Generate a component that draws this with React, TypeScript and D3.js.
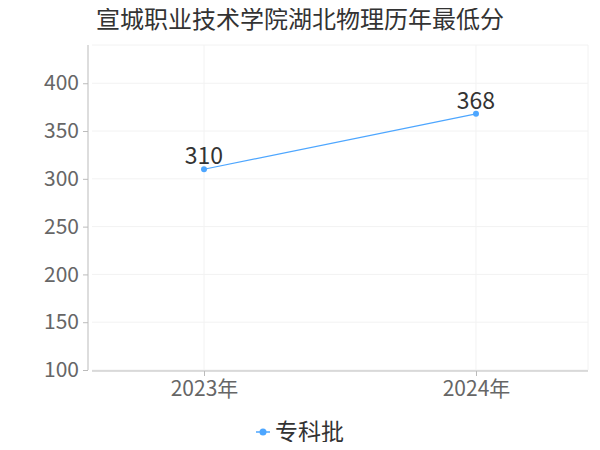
import { useRef, useEffect } from 'react';
import * as d3 from 'd3';

const title = '宣城职业技术学院湖北物理历年最低分';
const years = ['2023年', '2024年'];
const scores = [310, 368];
const seriesName = '专科批';
const yTicks = [100, 150, 200, 250, 300, 350, 400];

export default function App() {
    const ref = useRef<HTMLDivElement>(null);

    useEffect(() => {
        if (!ref.current) return;
        const w = 600;
        const h = 450;
        const font = '"Noto Sans CJK SC", "Noto Sans", sans-serif';
        d3.select(ref.current).selectAll('*').remove();
        const svg = d3
            .select(ref.current)
            .append('svg')
            .attr('width', w)
            .attr('height', h)
            .style('font-family', font)
            .style('display', 'block');

        const left = 92;
        const right = 588;
        const top = 45;
        const bottom = 370;

        const x = d3.scalePoint<string>().domain(years).range([left, right]).padding(0.4118);
        const y = d3.scaleLinear().domain([100, 440]).range([bottom, top]);

        // grid
        svg.append('g')
            .selectAll('line')
            .data(yTicks.concat([440]))
            .join('line')
            .attr('x1', left)
            .attr('x2', right)
            .attr('y1', (d) => y(d))
            .attr('y2', (d) => y(d))
            .attr('stroke', '#f2f2f2');
        svg.append('g')
            .selectAll('line')
            .data(years)
            .join('line')
            .attr('x1', (d) => x(d)!)
            .attr('x2', (d) => x(d)!)
            .attr('y1', top)
            .attr('y2', bottom)
            .attr('stroke', '#f2f2f2');
        svg.append('line')
            .attr('x1', right)
            .attr('x2', right)
            .attr('y1', top)
            .attr('y2', bottom)
            .attr('stroke', '#f2f2f2');

        // y axis
        const yAxis = svg
            .append('g')
            .attr('transform', `translate(88,0)`)
            .call(d3.axisLeft(y).tickValues(yTicks).tickSize(5).tickPadding(4));
        yAxis.select('.domain').attr('stroke', '#bbb').attr('d', `M0,${top}V${bottom}`);
        yAxis.selectAll('.tick line').attr('stroke', '#bbb');
        yAxis
            .selectAll('.tick text')
            .attr('fill', '#666')
            .style('font-size', '21px')
            .style('font-family', font);

        // x axis
        const xAxis = svg
            .append('g')
            .attr('transform', `translate(0,${bottom + 1})`)
            .call(d3.axisBottom(x).tickSize(5).tickPadding(5));
        xAxis.select('.domain').attr('stroke', '#bbb').attr('d', `M${left},0H${right}`);
        xAxis.selectAll('.tick line').attr('stroke', '#bbb');
        xAxis
            .selectAll('.tick text')
            .attr('fill', '#666')
            .style('font-size', '21px')
            .style('font-family', font);

        const pts = years.map((yr, i) => ({ yr, v: scores[i] }));
        const line = d3
            .line<{ yr: string; v: number }>()
            .x((d) => x(d.yr)!)
            .y((d) => y(d.v));
        svg.append('path')
            .attr('d', line(pts))
            .attr('fill', 'none')
            .attr('stroke', '#4da6ff')
            .attr('stroke-width', 1.2);
        svg.append('g')
            .selectAll('circle')
            .data(pts)
            .join('circle')
            .attr('cx', (d) => x(d.yr)!)
            .attr('cy', (d) => y(d.v))
            .attr('r', 3)
            .attr('fill', '#4da6ff');
        svg.append('g')
            .selectAll('text')
            .data(pts)
            .join('text')
            .attr('x', (d) => x(d.yr)!)
            .attr('y', (d) => y(d.v) - 5)
            .attr('text-anchor', 'middle')
            .attr('fill', '#333')
            .style('font-size', '23px')
            .text((d) => d.v);

        // title
        svg.append('text')
            .attr('x', 300)
            .attr('y', 28)
            .attr('text-anchor', 'middle')
            .attr('fill', '#333')
            .style('font-size', '24px')
            .text(title);

        // legend
        const lg = svg.append('g').attr('transform', 'translate(256,432)');
        lg.append('line').attr('x1', 0).attr('x2', 14).attr('y1', 0).attr('y2', 0).attr('stroke', '#4da6ff').attr('stroke-width', 1.5);
        lg.append('circle').attr('cx', 7).attr('cy', 0).attr('r', 3.5).attr('fill', '#4da6ff');
        lg.append('text')
            .attr('x', 19)
            .attr('y', 0)
            .attr('dy', '0.35em')
            .attr('fill', '#333')
            .style('font-size', '23px')
            .text(seriesName);
    }, []);

    return <div ref={ref} style={{ margin: -8, width: 600, height: 450 }} />;
}
